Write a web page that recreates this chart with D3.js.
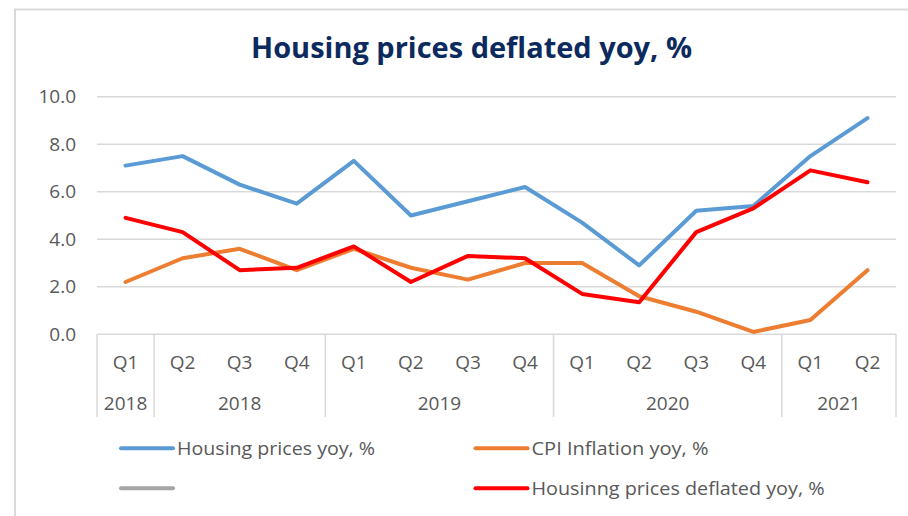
<!DOCTYPE html>
<html>
<head>
<meta charset="utf-8">
<script src="https://cdn.jsdelivr.net/npm/d3@7"></script>
<style>
  html, body { margin: 0; padding: 0; background: #ffffff; }
  svg { display: block; }
  text { font-family: "Open Sans", "Noto Sans", sans-serif; }
</style>
</head>
<body>
<svg id="chart" width="908" height="516"></svg>
<script>
// ---- data ----
const quarters = ["Q1","Q2","Q3","Q4","Q1","Q2","Q3","Q4","Q1","Q2","Q3","Q4","Q1","Q2"];
const yearLabels = ["2018","2018","2019","2020","2021"];
const yearSpans = [1, 3, 4, 4, 2];
const housing = [7.1, 7.5, 6.3, 5.5, 7.3, 5.0, 5.6, 6.2, 4.7, 2.9, 5.2, 5.4, 7.5, 9.1];
const cpi = [2.2, 3.2, 3.6, 2.7, 3.6, 2.8, 2.3, 3.0, 3.0, 1.6, 0.95, 0.1, 0.6, 2.7];
const blankSeries = [];
const deflated = [4.9, 4.3, 2.7, 2.8, 3.7, 2.2, 3.3, 3.2, 1.7, 1.35, 4.3, 5.3, 6.9, 6.4];
const yTicks = [0, 2, 4, 6, 8, 10];
const seriesNames = ["Housing prices yoy, %", "CPI Inflation yoy, %", "", "Housinng prices deflated yoy, %"];
const seriesColors = ["#5B9BD5", "#ED7D31", "#A5A5A5", "#FF0000"];
const titleText = "Housing prices deflated yoy, %";

// ---- layout ----
const svg = d3.select("#chart");
const L = 97, R = 896, T = 96.7, B = 334.3;
const gridColor = "#D9D9D9";
const labelColor = "#595959";

// outer border (extends beyond the right/bottom of the picture)
svg.append("rect")
  .attr("x", 15).attr("y", 9.5).attr("width", 920).attr("height", 540)
  .attr("fill", "none").attr("stroke", gridColor).attr("stroke-width", 2);

// title
svg.append("text")
  .attr("x", 251).attr("y", 58)
  .attr("font-size", 29).attr("font-weight", "bold")
  .attr("fill", "#0D2A5E")
  .attr("textLength", 441).attr("lengthAdjust", "spacingAndGlyphs")
  .text(titleText);

const idx = d3.range(quarters.length);
const x = d3.scaleBand().domain(idx).range([L, R]).padding(0);
const cx = i => x(i) + x.bandwidth() / 2;
const y = d3.scaleLinear().domain([0, 10]).range([B, T]);

// gridlines
svg.append("g").selectAll("line").data(yTicks).join("line")
  .attr("x1", L).attr("x2", R)
  .attr("y1", d => y(d)).attr("y2", d => y(d))
  .attr("stroke", gridColor).attr("stroke-width", 1.5);

// y labels
svg.append("g").selectAll("text").data(yTicks).join("text")
  .attr("x", 76).attr("y", d => y(d))
  .attr("dy", "0.35em")
  .attr("text-anchor", "end")
  .attr("font-size", 19).attr("fill", labelColor)
  .text(d => d3.format(".1f")(d));

// x axis: category separators for the multi-level labels
const boundaries = [0];
yearSpans.forEach(s => boundaries.push(boundaries[boundaries.length - 1] + s));
const bx = k => k < quarters.length ? x(k) : R;
svg.append("g").selectAll("line").data(boundaries).join("line")
  .attr("x1", d => bx(d)).attr("x2", d => bx(d))
  .attr("y1", B).attr("y2", 417)
  .attr("stroke", gridColor).attr("stroke-width", 1.5);

// quarter labels
svg.append("g").selectAll("text").data(idx).join("text")
  .attr("x", i => cx(i)).attr("y", 369)
  .attr("text-anchor", "middle")
  .attr("font-size", 19).attr("fill", labelColor)
  .text(i => quarters[i]);

// year labels
svg.append("g").selectAll("text").data(yearLabels).join("text")
  .attr("x", (d, k) => (bx(boundaries[k]) + bx(boundaries[k + 1])) / 2)
  .attr("y", 410)
  .attr("text-anchor", "middle")
  .attr("font-size", 19).attr("fill", labelColor)
  .text(d => d);

// lines
const lineGen = d3.line().x((d, i) => cx(i)).y(d => y(d));
const allSeries = [housing, cpi, blankSeries, deflated];
svg.append("g").selectAll("path").data(allSeries).join("path")
  .attr("d", d => d.length ? lineGen(d) : null)
  .attr("fill", "none")
  .attr("stroke", (d, k) => seriesColors[k])
  .attr("stroke-width", 4)
  .attr("stroke-linejoin", "round")
  .attr("stroke-linecap", "round");

// legend
const legendPos = [
  {lx: 121, ly: 448.3, tw: 198},
  {lx: 475.5, ly: 448.3, tw: 177},
  {lx: 121, ly: 488.3, tw: 0},
  {lx: 475.5, ly: 488.3, tw: 293}
];
const lg = svg.append("g").selectAll("g").data(seriesNames).join("g");
lg.append("line")
  .attr("x1", (d, k) => legendPos[k].lx)
  .attr("x2", (d, k) => legendPos[k].lx + 52)
  .attr("y1", (d, k) => legendPos[k].ly)
  .attr("y2", (d, k) => legendPos[k].ly)
  .attr("stroke", (d, k) => seriesColors[k])
  .attr("stroke-width", 4)
  .attr("stroke-linecap", "round");
lg.filter(d => d.length > 0).append("text")
  .attr("x", (d) => legendPos[seriesNames.indexOf(d)].lx + 56)
  .attr("y", (d) => legendPos[seriesNames.indexOf(d)].ly + 7)
  .attr("font-size", 19).attr("fill", labelColor)
  .attr("textLength", d => legendPos[seriesNames.indexOf(d)].tw)
  .attr("lengthAdjust", "spacingAndGlyphs")
  .text(d => d);
</script>
</body>
</html>
